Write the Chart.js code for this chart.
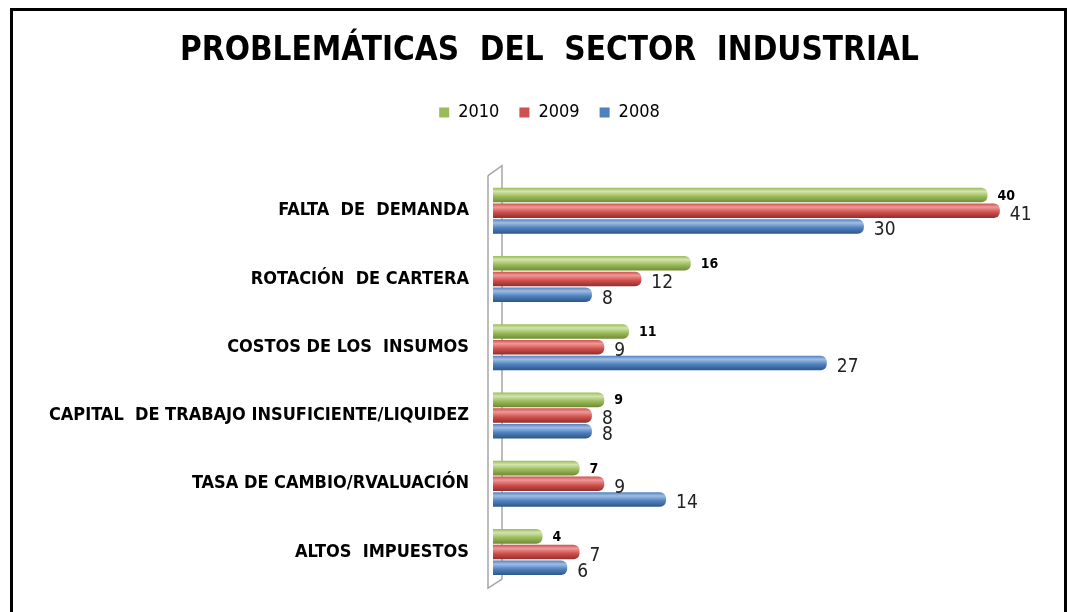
<!DOCTYPE html>
<html>
<head>
<meta charset="utf-8">
<script src="https://cdn.jsdelivr.net/npm/chart.js@4"></script>
<style>
  html, body { margin: 0; padding: 0; background: #fff; }
  #wrap { position: relative; width: 1074px; height: 612px; overflow: hidden; }
  #frame { position: absolute; left: 10px; top: 8px; width: 1051px; height: 640px;
           border: 3px solid #000; pointer-events: none; }
  canvas { position: absolute; left: 0; top: 0; }
</style>
</head>
<body>
<div id="wrap">
  <canvas id="c" width="1074" height="621"></canvas>
  <div id="frame"></div>
</div>
<script>
const titleText = 'PROBLEMÁTICAS  DEL  SECTOR  INDUSTRIAL';
const categories = [
  'FALTA  DE  DEMANDA',
  'ROTACIÓN  DE CARTERA',
  'COSTOS DE LOS  INSUMOS',
  'CAPITAL  DE TRABAJO INSUFICIENTE/LIQUIDEZ',
  'TASA DE CAMBIO/RVALUACIÓN',
  'ALTOS  IMPUESTOS'
];
const seriesNames = ['2010', '2009', '2008'];
const values2010 = [40, 16, 11, 9, 7, 4];
const values2009 = [41, 12, 9, 8, 9, 7];
const values2008 = [30, 8, 27, 8, 14, 6];
const seriesValues = [values2010, values2009, values2008];
const seriesColors = [
  { light: '#d3e4ad', mid: '#9bbb59', dark: '#6f8a38' },
  { light: '#ee9a98', mid: '#d0504d', dark: '#8f2e2b' },
  { light: '#9fbde6', mid: '#4f81bd', dark: '#2e5689' }
];

const FONT = '"Liberation Sans Narrow", "DejaVu Sans Condensed", "Liberation Sans", sans-serif';
const CAT_PCT = 0.69, BAR_PCT = 0.93;
const PAD_L = 25;

function cylinder(ctx) {
  const chart = ctx.chart;
  const c = seriesColors[ctx.datasetIndex];
  const y = chart.scales.y;
  if (!y || ctx.dataIndex === undefined) return c.mid;
  const step = (y.getPixelForValue(1) - y.getPixelForValue(0));
  const slot = step * CAT_PCT / 3;
  const center = y.getPixelForValue(ctx.dataIndex) + (ctx.datasetIndex - 1) * slot;
  const h = slot * BAR_PCT;
  const g = chart.ctx.createLinearGradient(0, center - h / 2, 0, center + h / 2);
  g.addColorStop(0, c.mid);
  g.addColorStop(0.25, c.light);
  g.addColorStop(0.6, c.mid);
  g.addColorStop(1, c.dark);
  return g;
}

const legendSpace = {
  id: 'legendSpace',
  beforeInit(chart) {
    const lg = chart.legend;
    if (!lg) return;
    const orig = lg.fit;
    lg.fit = function () { orig.call(this); this.height += 45; };
  }
};

const wallPlugin = {
  id: 'wall',
  beforeDatasetsDraw(chart) {
    const a = chart.chartArea, g = chart.ctx;
    g.save();
    g.strokeStyle = '#a6a6a6';
    g.lineWidth = 1.5;
    g.beginPath();
    g.moveTo(a.left - 5, a.top - 1);
    g.lineTo(a.left - 5, a.bottom + 2);
    g.lineTo(a.left + 9, a.bottom - 7);
    g.moveTo(a.left - 5, a.top - 1);
    g.lineTo(a.left + 9, a.top - 11);
    g.lineTo(a.left + 9, a.bottom - 7);
    g.stroke();
    g.restore();
  }
};

const labelPlugin = {
  id: 'vlabels',
  afterDatasetsDraw(chart) {
    const g = chart.ctx;
    g.save();
    g.textBaseline = 'middle';
    g.textAlign = 'left';
    chart.data.datasets.forEach((ds, di) => {
      const meta = chart.getDatasetMeta(di);
      meta.data.forEach((el, i) => {
        if (di === 0) {
          g.font = 'bold 14px ' + FONT;
          g.fillStyle = '#000';
          g.fillText(String(ds.data[i]), el.x + 10, el.y + 1);
        } else {
          g.font = '19px ' + FONT;
          g.fillStyle = '#222';
          g.fillText(String(ds.data[i]), el.x + 10, el.y + 4);
        }
      });
    });
    g.restore();
  }
};

new Chart(document.getElementById('c'), {
  type: 'bar',
  data: {
    labels: categories,
    datasets: seriesNames.map((name, i) => ({
      label: name,
      data: seriesValues[i],
      backgroundColor: cylinder,
      borderColor: seriesColors[i].dark,
      borderWidth: 0,
      borderRadius: 6,
      borderSkipped: 'start',
      categoryPercentage: CAT_PCT,
      barPercentage: BAR_PCT
    }))
  },
  options: {
    indexAxis: 'y',
    responsive: false,
    animation: false,
    layout: { padding: { top: 0, right: 0, bottom: 0, left: PAD_L } },
    plugins: {
      title: {
        display: true,
        text: titleText,
        color: '#000',
        font: { family: FONT, size: 33, weight: 'bold' },
        padding: { top: 32, bottom: 12 }
      },
      legend: {
        display: true,
        position: 'top',
        labels: {
          color: '#222',
          font: { family: FONT, size: 18 },
          boxWidth: 10,
          boxHeight: 10,
          padding: 20,
          generateLabels(chart) {
            return chart.data.datasets.map((ds, i) => ({
              text: ds.label,
              fillStyle: seriesColors[i].mid,
              strokeStyle: seriesColors[i].mid,
              lineWidth: 0,
              datasetIndex: i,
              hidden: false
            }));
          }
        }
      },
      tooltip: { enabled: false }
    },
    scales: {
      x: {
        min: 0, max: 47,
        display: false,
        grid: { display: false }
      },
      y: {
        afterFit(scale) { scale.width = 493 - PAD_L; },
        border: { display: false },
        grid: { display: false, drawTicks: false },
        ticks: {
          color: '#000',
          padding: 24,
          font: { family: FONT, size: 18, weight: 'bold' }
        }
      }
    }
  },
  plugins: [legendSpace, wallPlugin, labelPlugin]
});
</script>
</body>
</html>
